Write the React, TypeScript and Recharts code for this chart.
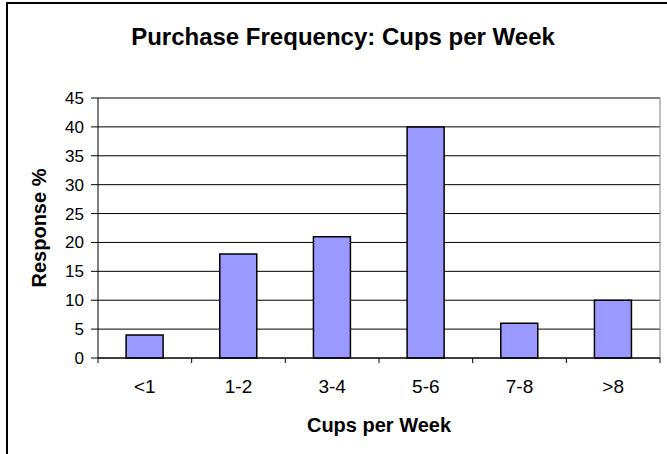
import React from 'react';
import { BarChart, Bar, XAxis, YAxis, CartesianGrid } from 'recharts';

const categories = ['<1', '1-2', '3-4', '5-6', '7-8', '>8'];
const responsePct = [4, 18, 21, 40, 6, 10];
const yTicks = [0, 5, 10, 15, 20, 25, 30, 35, 40, 45];

const chartData = categories.map((cat, i) => ({ cat, value: responsePct[i] }));

const FONT = '"Liberation Sans", Arial, sans-serif';

// tick label plus a tick mark at the left edge of each category band (and the right edge of the last)
const CategoryTick = (props: any) => {
  const { x, y, payload, index } = props;
  const half = payload?.offset ?? 0;
  const last = index === categories.length - 1;
  return (
    <g>
      <line x1={x - half} x2={x - half} y1={y} y2={y + 5} stroke="#000" />
      {last && <line x1={x + half} x2={x + half} y1={y} y2={y + 5} stroke="#000" />}
      <text x={x} y={y + 35} textAnchor="middle" fontSize={19} fontFamily={FONT} fill="#000">
        {payload.value}
      </text>
    </g>
  );
};

export default function App() {
  return (
    <div
      style={{
        position: 'absolute',
        left: 0,
        top: 0,
        width: 667,
        height: 454,
        overflow: 'hidden',
        background: '#fff',
      }}
    >
      <div
        style={{
          position: 'absolute',
          left: 6,
          top: 2,
          width: 720,
          height: 520,
          border: '2px solid #000',
        }}
      />
      <div
        style={{
          position: 'absolute',
          left: 0,
          top: 23,
          width: 686,
          textAlign: 'center',
          fontFamily: FONT,
          fontWeight: 'bold',
          fontSize: 24,
          lineHeight: '28px',
        }}
      >
        Purchase Frequency: Cups per Week
      </div>
      <BarChart
        width={667}
        height={454}
        data={chartData}
        margin={{ top: 98, right: 7, bottom: 66, left: 0 }}
        barCategoryGap="30%"
        style={{ position: 'absolute', left: 0, top: 0 }}
      >
        <CartesianGrid vertical={false} stroke="#000" />
        <CartesianGrid
          horizontal={false}
          stroke="#808080"
          verticalCoordinatesGenerator={({ offset }: any) => [offset.left + offset.width]}
        />
        <CartesianGrid
          vertical={false}
          stroke="#808080"
          horizontalCoordinatesGenerator={({ offset }: any) => [offset.top]}
        />
        <XAxis
          dataKey="cat"
          height={30}
          tickLine={false}
          tickSize={0}
          tickMargin={0}
          axisLine={{ stroke: '#000' }}
          tick={<CategoryTick />}
          interval={0}
          label={{
            content: () => (
              <text
                x={379}
                y={432}
                textAnchor="middle"
                fontFamily={FONT}
                fontWeight="bold"
                fontSize={20}
                fill="#000"
              >
                Cups per Week
              </text>
            ),
          }}
        />
        <YAxis
          width={98}
          domain={[0, 45]}
          ticks={yTicks}
          interval={0}
          tickSize={7}
          tickMargin={7}
          axisLine={{ stroke: '#000' }}
          tickLine={{ stroke: '#000' }}
          tick={{ fontSize: 17, fontFamily: FONT, fill: '#000' }}
          label={{
            content: () => (
              <text
                x={46}
                y={228}
                transform="rotate(-90 46 228)"
                textAnchor="middle"
                fontFamily={FONT}
                fontWeight="bold"
                fontSize={20}
                fill="#000"
              >
                Response %
              </text>
            ),
          }}
        />
        <Bar dataKey="value" fill="#9999FF" stroke="#000" strokeWidth={1.5} isAnimationActive={false} />
      </BarChart>
    </div>
  );
}
